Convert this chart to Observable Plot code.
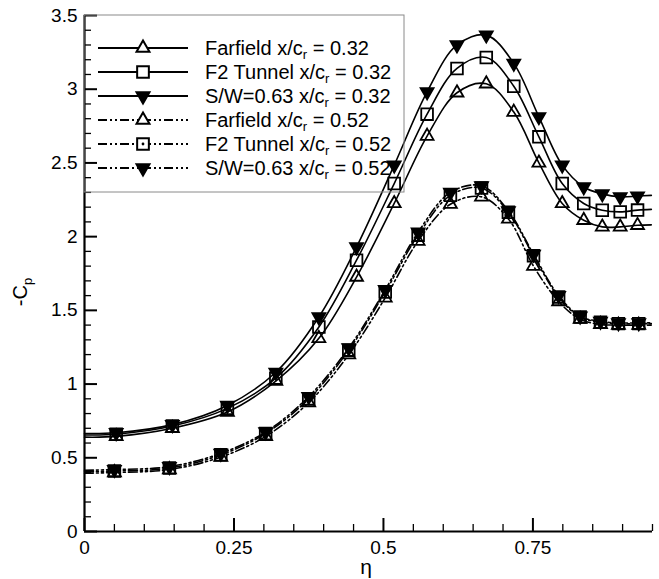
<!DOCTYPE html>
<html>
<head>
<meta charset="utf-8">
<script src="https://cdn.jsdelivr.net/npm/d3@7"></script>
<script src="https://cdn.jsdelivr.net/npm/@observablehq/plot@0.6"></script>
<style>
  html, body { margin: 0; padding: 0; background: #fff; }
  #chart { width: 659px; height: 579px; }
</style>
</head>
<body>
<div id="chart"></div>
<script>
// Spanwise stations (eta) of the markers
const etaU = [0.053, 0.147, 0.239, 0.32, 0.392, 0.455, 0.518, 0.573, 0.623, 0.672, 0.718, 0.76, 0.799, 0.835, 0.866, 0.896, 0.925];
const etaL = [0.05, 0.142, 0.228, 0.303, 0.375, 0.442, 0.503, 0.558, 0.612, 0.664, 0.709, 0.751, 0.793, 0.829, 0.863, 0.893, 0.927];

// -Cp at x/c_r = 0.32
const farU = [0.645, 0.70, 0.81, 1.02, 1.31, 1.726, 2.225, 2.682, 2.976, 3.037, 2.845, 2.50, 2.225, 2.111, 2.066, 2.066, 2.077];
const f2U  = [0.66, 0.715, 0.835, 1.04, 1.387, 1.84, 2.36, 2.831, 3.141, 3.215, 3.02, 2.677, 2.36, 2.225, 2.179, 2.168, 2.18];
const swU  = [0.67, 0.725, 0.855, 1.08, 1.455, 1.93, 2.485, 2.982, 3.30, 3.367, 3.175, 2.813, 2.485, 2.337, 2.29, 2.27, 2.275];

// -Cp at x/c_r = 0.52
const farL = [0.40, 0.42, 0.505, 0.645, 0.875, 1.20, 1.585, 1.97, 2.22, 2.27, 2.12, 1.80, 1.56, 1.44, 1.405, 1.40, 1.40];
const f2L  = [0.41, 0.43, 0.52, 0.665, 0.90, 1.23, 1.625, 2.01, 2.28, 2.33, 2.165, 1.87, 1.59, 1.455, 1.42, 1.41, 1.41];
const swL  = [0.42, 0.44, 0.53, 0.675, 0.915, 1.245, 1.64, 2.03, 2.30, 2.345, 2.175, 1.88, 1.60, 1.46, 1.425, 1.415, 1.415];

// curve values at the plot edges (eta = 0 and right end)
const edgeEta = [0, 0.948];
const farUEdge = [0.64, 2.08];
const f2UEdge  = [0.655, 2.185];
const swUEdge  = [0.665, 2.28];
const farLEdge = [0.395, 1.40];
const f2LEdge  = [0.405, 1.41];
const swLEdge  = [0.415, 1.415];

const xMajor = [0, 0.25, 0.5, 0.75];
const yMajor = [0, 0.5, 1, 1.5, 2, 2.5, 3, 3.5];
const xMinor = d3.range(0, 20).map(i => i / 20).filter(v => !xMajor.some(m => Math.abs(m - v) < 1e-9));
const yMinor = d3.range(0, 36).map(i => i / 10).filter(v => !yMajor.some(m => Math.abs(m - v) < 1e-9));

const legendLabels = [
  ["Farfield x/c", "r", " = 0.32"],
  ["F2 Tunnel x/c", "r", " = 0.32"],
  ["S/W=0.63 x/c", "r", " = 0.32"],
  ["Farfield x/c", "r", " = 0.52"],
  ["F2 Tunnel x/c", "r", " = 0.52"],
  ["S/W=0.63 x/c", "r", " = 0.52"]
];

const DASH = "9,3,2,3,2,3";
const series = [
  {eta: etaU, v: farU, edge: farUEdge, sym: "tri", dash: null},
  {eta: etaU, v: f2U, edge: f2UEdge, sym: "sq", dash: null},
  {eta: etaU, v: swU, edge: swUEdge, sym: "inv", dash: null},
  {eta: etaL, v: farL, edge: farLEdge, sym: "tri", dash: DASH},
  {eta: etaL, v: f2L, edge: f2LEdge, sym: "sqdot", dash: DASH},
  {eta: etaL, v: swL, edge: swLEdge, sym: "inv", dash: DASH}
];

function markerMarks(data, sym, opts = {}) {
  const base = {x: "eta", y: "v", stroke: "black", strokeWidth: 1.8, ...opts};
  if (sym === "tri") return [Plot.dot(data, {...base, symbol: "triangle", r: 4.8, fill: "none"})];
  if (sym === "inv") return [Plot.dot(data, {...base, symbol: "triangle", r: 4.8, rotate: 180, fill: "black"})];
  if (sym === "sq") return [Plot.dot(data, {...base, symbol: "square", r: 6.6, fill: "none"})];
  return [
    Plot.dot(data, {...base, symbol: "square", r: 6.6, fill: "none"}),
    Plot.dot(data, {...base, symbol: "circle", r: 1.2, fill: "black", strokeWidth: 0.8})
  ];
}

const marks = [];
for (const s of series) {
  const pts = s.eta.map((e, i) => ({eta: e, v: s.v[i]}));
  const linePts = [{eta: edgeEta[0], v: s.edge[0]}, ...pts, {eta: edgeEta[1], v: s.edge[1]}];
  marks.push(Plot.line(linePts, {x: "eta", y: "v", curve: "catmull-rom", stroke: "black", strokeWidth: 1.6, strokeDasharray: s.dash}));
}
for (const s of series) {
  const pts = s.eta.map((e, i) => ({eta: e, v: s.v[i]}));
  marks.push(...markerMarks(pts, s.sym));
}

const plot = Plot.plot({
  width: 659,
  height: 579,
  marginLeft: 84,
  marginRight: 7,
  marginTop: 15,
  marginBottom: 48,
  style: {fontFamily: "'Liberation Sans', Arial, sans-serif", fontSize: "19px", background: "white", color: "black", overflow: "visible"},
  x: {domain: [0, 0.95]},
  y: {domain: [0, 3.5]},
  marks: [
    // inward ticks: drawn outward then shifted inside by their own length
    Plot.axisX(xMinor, {tickSize: 7, dy: -7, tickFormat: () => "", label: null, strokeWidth: 1.3}),
    Plot.axisX(xMajor, {tickSize: 13, dy: -13, tickFormat: () => "", label: null, strokeWidth: 2}),
    Plot.axisX(xMajor, {tickSize: 0, tickPadding: 9, tickFormat: d => String(d), label: null, fontSize: 19}),
    Plot.axisY(yMinor, {tickSize: 7, dx: 7, tickFormat: () => "", label: null, strokeWidth: 1.3}),
    Plot.axisY(yMajor, {tickSize: 13, dx: 13, tickFormat: () => "", label: null, strokeWidth: 2}),
    Plot.axisY(yMajor, {tickSize: 0, tickPadding: 7, tickFormat: d => String(d), label: null, fontSize: 19}),
    ...marks,
    Plot.ruleX([0], {strokeWidth: 2.2}),
    Plot.ruleY([0], {strokeWidth: 2.2})
  ]
});

document.getElementById("chart").appendChild(plot);

// Legend and axis titles, drawn in the plot's SVG
const svg = d3.select(plot);
const g = svg.append("g").attr("font-family", "'Liberation Sans', Arial, sans-serif").attr("fill", "black").attr("text-anchor", "start");

// legend box
g.append("rect").attr("x", 84).attr("y", 15).attr("width", 320).attr("height", 177)
  .attr("fill", "none").attr("stroke", "#8a8a8a").attr("stroke-width", 1);

const rowY0 = 48, rowDy = 24;
series.forEach((s, i) => {
  const y = rowY0 + i * rowDy;
  g.append("line").attr("x1", 98).attr("x2", 188).attr("y1", y).attr("y2", y)
    .attr("stroke", "black").attr("stroke-width", 2).attr("stroke-dasharray", s.dash);
  const cx = 143;
  if (s.sym === "tri") {
    g.append("path").attr("d", d3.symbol(d3.symbolTriangle, Math.PI * 4.8 * 4.8)()).attr("transform", `translate(${cx},${y})`)
      .attr("fill", "white").attr("stroke", "black").attr("stroke-width", 2);
  } else if (s.sym === "inv") {
    g.append("path").attr("d", d3.symbol(d3.symbolTriangle, Math.PI * 4.8 * 4.8)()).attr("transform", `translate(${cx},${y}) rotate(180)`)
      .attr("fill", "black").attr("stroke", "black").attr("stroke-width", 2);
  } else {
    g.append("path").attr("d", d3.symbol(d3.symbolSquare, Math.PI * 6.6 * 6.6)()).attr("transform", `translate(${cx},${y})`)
      .attr("fill", "white").attr("stroke", "black").attr("stroke-width", 2);
    if (s.sym === "sqdot") g.append("circle").attr("cx", cx).attr("cy", y).attr("r", 1.4).attr("fill", "black");
  }
  const t = g.append("text").attr("x", 205).attr("y", y + 7).attr("font-size", 20).attr("text-anchor", "start");
  t.append("tspan").text(legendLabels[i][0]);
  t.append("tspan").attr("font-size", 13).attr("dy", 4).text(legendLabels[i][1]);
  t.append("tspan").attr("dy", -4).text(legendLabels[i][2]);
});

// x axis title
g.append("text").attr("x", 366).attr("y", 574).attr("text-anchor", "middle").attr("font-size", 21).text("η");

// y axis title
const yl = g.append("text").attr("transform", "translate(27,292) rotate(-90)").attr("text-anchor", "middle").attr("font-size", 20);
yl.append("tspan").text("-C");
yl.append("tspan").attr("font-size", 13).attr("dy", 5).text("p");
</script>
</body>
</html>
